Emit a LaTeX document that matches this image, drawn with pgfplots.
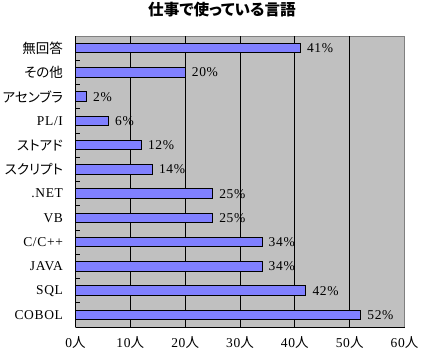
\documentclass[border=0pt]{standalone}
\usepackage{fontspec}
\setmainfont[LetterSpace=5]{Liberation Serif}
\newfontfamily\cjk[RawFeature=+palt]{Noto Sans CJK JP}
\usepackage{pgfplots}
\pgfplotsset{compat=1.18}
\definecolor{barblue}{HTML}{8080FF}
\definecolor{plotgray}{HTML}{C0C0C0}
\definecolor{bordergray}{HTML}{808080}
\pgfplotstableread{
y val
0 52
1 42
2 34
3 34
4 25
5 25
6 14
7 12
8 6
9 2
10 20
11 41
}\langdata
\begin{document}
\begin{tikzpicture}
\path[use as bounding box] (0pt,0pt) rectangle (425pt,354pt);
\node[font=\fontsize{15.6}{17}\cjk\bfseries] at (222pt,344pt) {仕事で使っている言語};
\begin{axis}[
  at={(75.5pt,27pt)}, anchor=south west,
  scale only axis, width=329pt, height=291pt,
  xbar, bar width=9.5pt,
  xmin=0, xmax=60, ymin=-0.5, ymax=11.5,
  axis background/.style={fill=plotgray},
  axis line style={draw=bordergray, line width=0.8pt},
  font=\fontsize{13.5}{15}\selectfont,
  xtick={0,10,...,60},
  xticklabels={0{\cjk 人},10{\cjk 人},20{\cjk 人},30{\cjk 人},40{\cjk 人},50{\cjk 人},60{\cjk 人}},
  xtick pos=bottom,
  major x tick style={draw=none},
  extra x ticks={10,20,30,40,50},
  extra x tick labels={},
  extra x tick style={grid=major, major grid style={black, line width=0.9pt}, major tick length=0pt},
  xticklabel style={yshift=-6pt},
  ytick={0,...,11},
  yticklabels={COBOL,SQL,JAVA,C/C++,VB,.NET,{\cjk スクリプト},{\cjk ストアド},PL/I,{\cjk アセンブラ},{\cjk その他},{\cjk 無回答}},
  ytick pos=left,
  major y tick style={draw=none},
  minor ytick={0.5,1.5,...,10.5},
  minor tick length=4pt,
  minor y tick style={black, line width=0.8pt},
  tick align=inside,
  yticklabel style={xshift=-9pt},
  /pgf/number format/assume math mode=true,
  nodes near coords={\pgfmathprintnumber{\pgfplotspointmeta}\%},
  point meta=x,
  every node near coord/.append style={anchor=west, xshift=3pt, font=\fontsize{13.5}{15}\selectfont},
  after end axis/.code={
    \draw[black, line width=0.8pt] (rel axis cs:0,0) -- (rel axis cs:0,1);
    \draw[black, line width=0.8pt] (rel axis cs:0,0) -- (rel axis cs:1,0);
  },
]
\addplot[fill=barblue, draw=black, line width=0.8pt] table[x=val, y=y] {\langdata};
\end{axis}
\end{tikzpicture}
\end{document}
